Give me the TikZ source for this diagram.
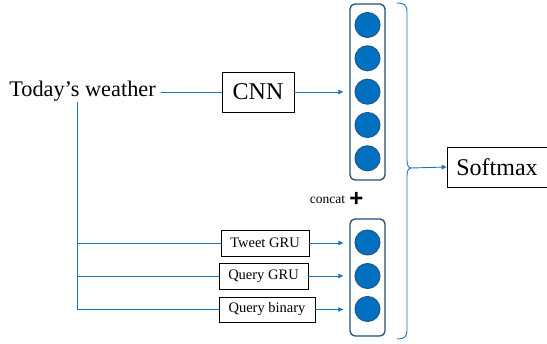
\documentclass[tikz,border=0pt]{standalone}
\usepackage{fontspec}
\setmainfont{Liberation Serif}
\newfontfamily\plusfont{Liberation Sans}
\usetikzlibrary{arrows.meta}
\definecolor{lineblue}{RGB}{28,117,188}
\definecolor{circfill}{RGB}{0,112,192}
\definecolor{circdraw}{RGB}{31,86,140}
\definecolor{vecdraw}{RGB}{31,78,121}
\tikzset{
  conn/.style={draw=lineblue, line width=0.9pt},
  arr/.style={conn, -{Triangle[length=5pt,width=4.5pt]}},
  blk/.style={draw=black, line width=0.7pt, fill=white, inner sep=0pt},
  vec/.style={draw=vecdraw, line width=1.3pt, rounded corners=5pt, minimum width=35pt, inner sep=0pt},
  neuron/.style={circle, draw=circdraw, fill=circfill, line width=1pt, minimum size=25pt, inner sep=0pt},
}
\begin{document}
\begin{tikzpicture}[x=1pt, y=-1pt]
\useasboundingbox (0,0) rectangle (547,344);
% input text
\node[inner sep=5pt, font=\fontsize{22.3}{24}\selectfont] (tw) at (82.5,91) {Today’s weather};
% CNN
\node[blk, minimum width=72pt, minimum height=40pt, font=\fontsize{24}{26}\selectfont] (cnn) at (258,92) {CNN};
% vectors
\node[vec, minimum height=176pt] (vtop) at (367.5,92) {};
\foreach \i/\y in {1/25,2/58.3,3/91.7,4/125,5/158.3}
  \node[neuron] (t\i) at (367.5,\y) {};
\node[vec, minimum height=117pt] (vbot) at (367.5,277.5) {};
\foreach \i/\y in {1/242.5,2/276,3/309}
  \node[neuron] (b\i) at (367.5,\y) {};
% GRU boxes
\node[blk, minimum width=88pt, minimum height=26pt, font=\fontsize{14.5}{16}\selectfont] (tgru) at (265,243) {Tweet GRU};
\node[blk, minimum width=89pt, minimum height=26pt, font=\fontsize{14.5}{16}\selectfont] (qgru) at (263.5,276) {Query GRU};
\node[blk, minimum width=96pt, minimum height=25pt, font=\fontsize{14.5}{16}\selectfont] (qbin) at (267,309.5) {Query binary};
% concat
\node[inner sep=0pt, font=\fontsize{13.5}{15}\selectfont] (concat) at (327.5,200) {concat};
\node[inner sep=0pt, font=\plusfont\bfseries\fontsize{24}{26}\selectfont] (plus) at (356.5,199.5) {+};
% softmax
\node[blk, minimum width=100pt, minimum height=40pt, font=\fontsize{24}{26}\selectfont] (sm) at (497,167) {Softmax};
% connectors
\draw[conn] (tw.east |- cnn.west) -- (cnn.west);
\draw[arr, shorten >=6pt] (cnn.east) -- (cnn.east -| vtop.west);
\coordinate (jtop) at (77,102);
\draw[conn] (jtop) |- (qbin.west);
\draw[conn] (jtop |- tgru.west) -- (tgru.west);
\draw[conn] (jtop |- qgru.west) -- (qgru.west);
\draw[arr, shorten >=6pt] (tgru.east) -- (tgru.east -| vbot.west);
\draw[arr, shorten >=6pt] (qgru.east) -- (qgru.east -| vbot.west);
\draw[arr, shorten >=6pt] (qbin.east) -- (qbin.east -| vbot.west);
% brace
\coordinate (btip) at (411,168);
\draw[conn] (397,3) .. controls (404,3) and (407,5) .. (407,12) -- (407,160)
  .. controls (407,165) and (408.5,168) .. (btip)
  .. controls (408.5,168) and (407,171) .. (407,176) -- (407,331)
  .. controls (407,337) and (404,339) .. (397,339);
\draw[arr] (btip) -- (sm.west);
\end{tikzpicture}
\end{document}
